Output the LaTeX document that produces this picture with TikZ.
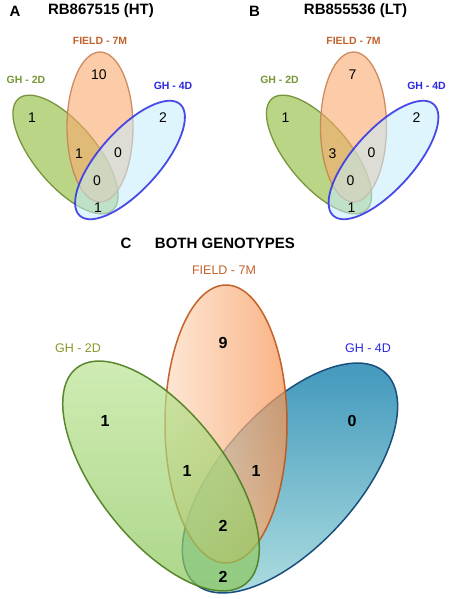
\documentclass[tikz,border=0pt]{standalone}
\usepackage{fontspec}
\setmainfont{Liberation Sans}
\definecolor{lgreenA}{RGB}{150,190,70}
\definecolor{dgreenA}{RGB}{110,140,50}
\definecolor{lorangeA}{RGB}{250,170,110}
\definecolor{dorangeA}{RGB}{200,130,85}
\definecolor{lblueA}{RGB}{195,236,252}
\definecolor{dblueA}{RGB}{55,55,230}
\definecolor{labgreen}{RGB}{120,150,55}
\definecolor{laborange}{RGB}{192,98,46}
\definecolor{labblue}{RGB}{40,40,225}
\definecolor{oC1}{RGB}{253,222,196}
\definecolor{oC2}{RGB}{247,150,85}
\definecolor{oCb}{RGB}{190,85,25}
\definecolor{gC1}{RGB}{190,230,150}
\definecolor{gC2}{RGB}{135,195,85}
\definecolor{gCb}{RGB}{75,125,30}
\definecolor{bC1}{RGB}{70,155,190}
\definecolor{bC2}{RGB}{168,218,222}
\definecolor{bCb}{RGB}{25,78,125}
\definecolor{labgreenC}{RGB}{140,150,40}
\begin{document}
\begin{tikzpicture}[x=1pt,y=-1pt,
  ttl/.style={font=\bfseries\fontsize{15}{17}\selectfont},
  numA/.style={font=\fontsize{14}{16}\selectfont},
  numC/.style={font=\bfseries\fontsize{16}{18}\selectfont},
  labA/.style={font=\bfseries\fontsize{10.5}{12}\selectfont},
  labC/.style={font=\fontsize{12.5}{14}\selectfont},
  gA/.style={fill=lgreenA, draw=dgreenA, fill opacity=0.65, draw opacity=0.9, line width=1.3pt},
  oA/.style={fill=lorangeA, draw=dorangeA, fill opacity=0.6, draw opacity=0.9, line width=1.3pt},
  bA/.style={fill=lblueA, draw=dblueA, fill opacity=0.55, draw opacity=0.9, line width=1.8pt}]
\useasboundingbox (0,0) rectangle (454,599);

% ---------------- Panel A ----------------
\node[ttl] (tA) at (15,11) {A};
\node[ttl] (hA) at (101,11) {RB867515 (HT)};
\path[gA, rotate around={-50:(65.5,154.5)}] (65.5,154.5) ellipse [x radius=73pt, y radius=31pt];
\path[oA] (100,127) ellipse [x radius=33pt, y radius=75pt];
\path[bA, rotate around={48:(130,160)}] (130,160) ellipse [x radius=75pt, y radius=30pt];
\node[labA, text=laborange] (fA) at (100,41) {FIELD - 7M};
\node[labA, text=labgreen] (g2A) at (26,80) {GH - 2D};
\node[labA, text=labblue] (g4A) at (173,86) {GH - 4D};
\node[numA] (a1) at (99,75) {10};
\node[numA] (a2) at (32,118) {1};
\node[numA] (a3) at (163,118) {2};
\node[numA] (a4) at (79,154) {1};
\node[numA] (a5) at (118,153) {0};
\node[numA] (a6) at (97,181) {0};
\node[numA] (a7) at (98,208) {1};

% ---------------- Panel B ----------------
\begin{scope}[xshift=253.5pt]
\node[ttl] (tB) at (1,11) {B};
\node[ttl] (hB) at (102,11) {RB855536 (LT)};
\path[gA, rotate around={-50:(65.5,154.5)}] (65.5,154.5) ellipse [x radius=73pt, y radius=31pt];
\path[oA] (100,127) ellipse [x radius=33pt, y radius=75pt];
\path[bA, rotate around={48:(130,160)}] (130,160) ellipse [x radius=75pt, y radius=30pt];
\node[labA, text=laborange] (fB) at (100,41) {FIELD - 7M};
\node[labA, text=labgreen] (g2B) at (26,80) {GH - 2D};
\node[labA, text=labblue] (g4B) at (173,86) {GH - 4D};
\node[numA] (b1) at (99,75) {7};
\node[numA] (b2) at (32,118) {1};
\node[numA] (b3) at (163,118) {2};
\node[numA] (b4) at (79,154) {3};
\node[numA] (b5) at (118,153) {0};
\node[numA] (b6) at (97,181) {0};
\node[numA] (b7) at (98,208) {1};
\end{scope}

% ---------------- Panel C ----------------
\node[ttl] (tC) at (126,243) {C};
\node[ttl] (hC) at (225,243) {BOTH GENOTYPES};
\shade[top color=bC1, bottom color=bC2, draw=bCb, line width=1.5pt, rotate around={48:(290,478)}] (290,478) ellipse [x radius=142pt, y radius=68pt];
\begin{scope}[fill opacity=0.72, draw opacity=0.9]
\shade[left color=oC1, right color=oC2, draw=oCb, line width=1.5pt] (226,424) ellipse [x radius=61pt, y radius=139pt];
\end{scope}
\begin{scope}[fill opacity=0.7, draw opacity=0.9]
\shade[top color=gC1, bottom color=gC2, draw=gCb, line width=1.5pt, rotate around={-52:(161,476)}] (161,476) ellipse [x radius=137pt, y radius=64pt];
\end{scope}
\node[labC, text=laborange] (fC) at (224,270) {FIELD - 7M};
\node[labC, text=labgreenC] (g2C) at (78,348) {GH - 2D};
\node[labC, text=labblue] (g4C) at (368,348) {GH - 4D};
\node[numC] (c1) at (223,343) {9};
\node[numC] (c2) at (105,421) {1};
\node[numC] (c3) at (352,421) {0};
\node[numC] (c4) at (187,471) {1};
\node[numC] (c5) at (256,471) {1};
\node[numC] (c6) at (223,526) {2};
\node[numC] (c7) at (223,577) {2};
\end{tikzpicture}
\end{document}
